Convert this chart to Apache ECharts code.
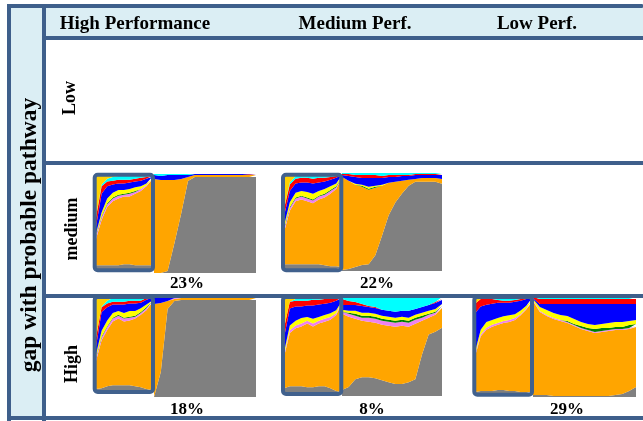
<!DOCTYPE html>
<html lang="en">
<head>
<meta charset="UTF-8" />
<title>gap with probable pathway</title>
<script src="https://cdn.jsdelivr.net/npm/echarts@6/dist/echarts.min.js"></script>
<style>
  html, body { margin: 0; padding: 0; background: #fff; }
  #main { width: 643px; height: 421px; }
</style>
</head>
<body>
<div id="main"></div>
<script>
// stack order, bottom -> top
var layers = ['gray', 'orange', 'violet', 'green', 'yellow', 'blue', 'red', 'cyan', 'gold'];
var layerColors = {
  gray: '#808080', orange: '#FFA500', violet: '#EE82EE', green: '#008000', yellow: '#FFFF00',
  blue: '#0000FF', red: '#FF0000', cyan: '#00FFFF', gold: '#FFD200'
};

var zoomSteps = ['0', '1', '2', '3', '4', '5', '6', '7', '8', '9', '10'];
var fullSteps = ['0', '1', '2', '3', '4', '5', '6', '7', '8', '9', '10', '11', '12', '13', '14', '15'];

var colLabels = ['High Performance', 'Medium Perf.', 'Low Perf.'];
var rowLabels = ['Low', 'medium', 'High'];
var shares = ['23%', '22%', '18%', '8%', '29%'];

// medium gap / high performance
var medHighPerfZoom = {
  gray:   [4, 4, 4, 4, 4, 5, 5, 4, 4, 4, 4],
  orange: [28, 48, 62, 68, 71, 72, 72, 76, 79, 84, 91],
  violet: [3, 3, 3, 3, 3, 2, 3, 2, 2, 1, 0],
  green:  [1, 1, 1, 1, 1, 1, 1, 1, 0, 0, 0],
  yellow: [2, 4, 5, 5, 5, 4, 4, 4, 3, 2, 1],
  blue:   [7, 20, 13, 9, 7, 7, 7, 6, 6, 5, 2],
  red:    [10, 8, 5, 4, 4, 4, 3, 3, 3, 2, 1],
  cyan:   [0, 2, 3, 4, 4, 5, 5, 4, 3, 2, 1],
  gold:   [45, 10, 4, 2, 1, 0, 0, 0, 0, 0, 0]
};
var medHighPerfFull = {
  gray:   [0, 0, 2, 30, 60, 93, 97, 97, 97, 97, 97, 97, 97, 97, 97, 97],
  orange: [95, 94, 92, 64, 35, 4, 2, 2, 2, 2, 2, 2, 2, 2, 2, 2],
  blue:   [4, 4, 5, 5, 4, 2, 1, 1, 1, 1, 1, 1, 1, 1, 0.5, 0.5],
  red:    [0, 0, 0, 0, 0, 0, 0, 0, 0, 0, 0, 0, 0, 0, 0.5, 0.5],
  cyan:   [1, 2, 1, 1, 1, 1, 0, 0, 0, 0, 0, 0, 0, 0, 0, 0]
};

// medium gap / medium performance
var medMedPerfZoom = {
  gray:   [5, 5, 5, 5, 5, 5, 5, 4, 3, 3, 2],
  orange: [34, 57, 67, 69, 67, 65, 69, 72, 77, 82, 96],
  violet: [3, 3, 3, 3, 3, 3, 3, 3, 3, 2, 0],
  green:  [1, 1, 1, 1, 1, 1, 1, 1, 1, 1, 0],
  yellow: [3, 5, 5, 5, 6, 6, 5, 5, 4, 3, 1],
  blue:   [10, 12, 10, 9, 10, 11, 9, 8, 7, 6, 1],
  red:    [8, 7, 5, 5, 5, 5, 5, 4, 3, 2, 0],
  cyan:   [0, 2, 3, 3, 3, 4, 3, 3, 2, 1, 0],
  gold:   [36, 8, 1, 0, 0, 0, 0, 0, 0, 0, 0]
};
var medMedPerfFull = {
  gray:   [1, 2, 4, 6, 7, 16, 36, 57, 70, 79, 87, 91, 91, 91, 91, 89],
  orange: [95, 90, 84, 80, 76, 69, 51, 33, 21, 13, 6, 3, 4, 4, 4, 5],
  green:  [0, 0, 0, 1, 1, 1, 0, 0, 0, 0, 0, 0, 0, 0, 0, 0],
  yellow: [0, 0, 1, 1, 2, 1, 1, 0, 0, 0, 0, 0, 0, 0, 0, 0],
  blue:   [2, 5, 7, 7, 9, 8, 7, 6, 5, 5, 4, 4, 3, 3, 3, 4],
  red:    [1, 2, 2, 3, 3, 3, 2, 2, 2, 1, 1, 1, 1, 1, 1, 1],
  cyan:   [1, 1, 2, 2, 2, 2, 3, 2, 2, 2, 2, 1, 1, 1, 1, 1]
};

// high gap / high performance
var highHighPerfZoom = {
  gray:   [2, 3, 5, 6, 6, 6, 6, 5, 4, 2, 1],
  orange: [30, 51, 60, 68, 71, 68, 69, 72, 77, 84, 93],
  violet: [3, 3, 3, 3, 3, 3, 3, 2, 2, 2, 1],
  green:  [1, 1, 1, 1, 1, 1, 1, 1, 1, 1, 0],
  yellow: [3, 6, 6, 5, 4, 5, 6, 5, 4, 3, 1],
  blue:   [8, 20, 14, 9, 7, 9, 8, 8, 6, 5, 3],
  red:    [10, 5, 4, 3, 3, 3, 3, 3, 2, 2, 1],
  cyan:   [0, 1, 3, 4, 5, 5, 4, 4, 4, 1, 0],
  gold:   [43, 10, 4, 1, 0, 0, 0, 0, 0, 0, 0]
};
var highHighPerfFull = {
  gray:   [0, 25, 88, 96, 97, 97, 97, 97, 97, 97, 97, 97, 97, 97, 97, 97],
  orange: [93, 69, 8, 2, 2, 2, 2, 2, 2, 2, 2, 2, 2, 2, 2, 2],
  violet: [0, 0, 0, 1, 0.5, 0.5, 0.5, 0.5, 0.5, 0.5, 0.5, 0.5, 0.5, 0.5, 0.5, 0.5],
  blue:   [6, 5, 3, 1, 0.5, 0.5, 0.5, 0.5, 0.5, 0.5, 0.5, 0.5, 0.5, 0.5, 0.5, 0.5],
  cyan:   [1, 1, 1, 0, 0, 0, 0, 0, 0, 0, 0, 0, 0, 0, 0, 0]
};

// high gap / medium performance
var highMedPerfZoom = {
  gray:   [4, 6, 6, 6, 5, 5, 6, 6, 4, 1, 0],
  orange: [33, 56, 61, 63, 67, 64, 66, 68, 72, 80, 94],
  violet: [2, 3, 3, 3, 3, 3, 3, 3, 3, 2, 1],
  yellow: [3, 5, 5, 6, 4, 5, 4, 4, 4, 3, 1],
  blue:   [15, 18, 15, 12, 12, 14, 13, 12, 11, 10, 3],
  red:    [10, 7, 6, 6, 5, 6, 5, 5, 4, 2, 1],
  cyan:   [0, 0, 2, 4, 4, 3, 3, 2, 2, 2, 0],
  gold:   [33, 5, 2, 0, 0, 0, 0, 0, 0, 0, 0]
};
var highMedPerfFull = {
  gray:   [6, 9, 17, 19, 19, 18, 16, 14, 12, 12, 14, 17, 42, 62, 65, 69],
  orange: [77, 71, 61, 57, 56, 56, 56, 57, 58, 59, 56, 56, 34, 17, 17, 20],
  violet: [2, 3, 3, 3, 4, 4, 4, 4, 4, 4, 4, 4, 3, 3, 2, 2],
  green:  [0, 1, 2, 2, 2, 2, 2, 2, 2, 2, 2, 2, 2, 1, 1, 0],
  yellow: [2, 2, 3, 3, 3, 3, 3, 3, 3, 3, 3, 3, 3, 3, 3, 2],
  blue:   [5, 6, 6, 7, 6, 6, 6, 6, 6, 6, 7, 6, 6, 6, 6, 4],
  red:    [6, 4, 3, 2, 1, 1, 0, 0, 0, 0, 0, 0, 0, 0, 1, 1],
  cyan:   [2, 4, 5, 7, 9, 10, 13, 14, 15, 14, 14, 12, 10, 8, 5, 2]
};

// high gap / low performance
var highLowPerfZoom = {
  gray:   [1, 2, 2, 2, 3, 3, 2, 2, 1, 1, 1],
  orange: [37, 57, 64, 67, 68, 70, 72, 74, 80, 86, 94],
  violet: [2, 2, 2, 2, 2, 2, 2, 2, 1, 1, 0],
  yellow: [3, 5, 6, 5, 5, 5, 5, 4, 4, 3, 2],
  blue:   [40, 24, 18, 17, 16, 14, 13, 13, 10, 7, 2],
  red:    [10, 8, 6, 5, 3, 2, 2, 2, 2, 1, 1],
  cyan:   [0, 0, 0, 1, 3, 4, 4, 3, 2, 1, 0],
  gold:   [7, 2, 2, 1, 0, 0, 0, 0, 0, 0, 0]
};
var highLowPerfFull = {
  gray:   [2, 2, 2, 1, 1, 1, 1, 1, 1, 1, 1, 1, 2, 3, 6, 10],
  orange: [94, 83, 79, 77, 75, 73, 70, 67, 65, 63, 64, 65, 65, 64, 62, 60],
  violet: [1, 1, 1, 1, 1, 1, 1, 1, 1, 1, 1, 1, 1, 1, 1, 1],
  green:  [0, 0, 0, 0, 0, 1, 1, 2, 2, 3, 3, 2, 2, 2, 3, 2],
  yellow: [1, 4, 5, 5, 5, 5, 5, 4, 4, 4, 4, 5, 5, 5, 4, 4],
  blue:   [1, 3, 6, 9, 11, 12, 15, 18, 20, 21, 20, 19, 18, 18, 17, 16],
  red:    [1, 5, 5, 5, 5, 5, 5, 5, 5, 5, 5, 5, 5, 5, 5, 5],
  cyan:   [0, 2, 2, 2, 2, 2, 2, 2, 2, 2, 2, 2, 2, 2, 2, 2]
};

var LINE = '#3E5F8B';
var PALE = '#DBEEF4';
var SERIF = "'Liberation Serif', 'Times New Roman', serif";

// each panel: zoomed part in a frame + full part on its right
var panels = [
  { zoom: medHighPerfZoom, full: medHighPerfFull, zg: [96, 175, 56, 94], fg: [154, 174, 102, 99], frame: [94.7, 174.7, 58.3, 95.5], label: shares[0], lx: 187, ly: 284 },
  { zoom: medMedPerfZoom, full: medMedPerfFull, zg: [284, 175, 58, 94], fg: [342, 173, 100, 98], frame: [283, 174.7, 58.3, 95.6], label: shares[1], lx: 377, ly: 284 },
  { zoom: highHighPerfZoom, full: highHighPerfFull, zg: [96, 297, 56, 94], fg: [154, 297, 102, 100], frame: [94.7, 297, 58.3, 95], label: shares[2], lx: 187, ly: 410 },
  { zoom: highMedPerfZoom, full: highMedPerfFull, zg: [284, 297, 58, 95], fg: [342, 297, 100, 99], frame: [283, 297, 58.3, 97], label: shares[3], lx: 372, ly: 410 },
  { zoom: highLowPerfZoom, full: highLowPerfFull, zg: [475, 297, 57, 96], fg: [533, 297, 103, 100], frame: [474.3, 297, 57.7, 97.7], label: shares[4], lx: 567, ly: 410 }
];

var grids = [], xAxes = [], yAxes = [], series = [];
function addPart(data, steps, g) {
  var idx = grids.length;
  grids.push({ left: g[0], top: g[1], width: g[2], height: g[3], show: false });
  xAxes.push({ type: 'category', gridIndex: idx, data: steps, boundaryGap: false, show: false });
  yAxes.push({ type: 'value', gridIndex: idx, min: 0, max: 100, show: false });
  layers.forEach(function (name) {
    if (!data[name]) return;
    series.push({
      type: 'line', name: name, xAxisIndex: idx, yAxisIndex: idx, stack: 'g' + idx,
      data: data[name], symbol: 'none', smooth: false,
      lineStyle: { width: 0 },
      areaStyle: { color: layerColors[name], opacity: 1 },
      itemStyle: { color: layerColors[name] }
    });
  });
}

var graphics = [
  // pale header and side column
  { type: 'rect', shape: { x: 10, y: 6, width: 34, height: 412 }, style: { fill: PALE }, z: 0 },
  { type: 'rect', shape: { x: 44, y: 6, width: 599, height: 31 }, style: { fill: PALE }, z: 0 },
  // table lines
  { type: 'rect', shape: { x: 7, y: 4, width: 636, height: 4, r: 1 }, style: { fill: LINE }, z: 50 },
  { type: 'rect', shape: { x: 7, y: 4, width: 4, height: 417 }, style: { fill: LINE }, z: 50 },
  { type: 'rect', shape: { x: 42, y: 6, width: 4, height: 415 }, style: { fill: LINE }, z: 50 },
  { type: 'rect', shape: { x: 42, y: 36, width: 601, height: 4 }, style: { fill: LINE }, z: 50 },
  { type: 'rect', shape: { x: 42, y: 161, width: 601, height: 4 }, style: { fill: LINE }, z: 50 },
  { type: 'rect', shape: { x: 42, y: 294, width: 601, height: 4 }, style: { fill: LINE }, z: 50 },
  { type: 'rect', shape: { x: 7, y: 416, width: 636, height: 4 }, style: { fill: LINE }, z: 50 },
  // side title
  { type: 'text', x: 30, y: 235, rotation: Math.PI / 2, z: 60,
    style: { text: 'gap with probable pathway', font: 'bold 23.5px ' + SERIF, fill: '#000', textAlign: 'center', textVerticalAlign: 'middle' } }
];
[135, 355, 537].forEach(function (cx, i) {
  graphics.push({ type: 'text', x: cx, y: 24, z: 60,
    style: { text: colLabels[i], font: 'bold 19px ' + SERIF, fill: '#000', textAlign: 'center', textVerticalAlign: 'middle' } });
});
[[70, 98], [72, 229], [72, 364]].forEach(function (p, i) {
  graphics.push({ type: 'text', x: p[0], y: p[1], rotation: Math.PI / 2, z: 60,
    style: { text: rowLabels[i], font: 'bold 18px ' + SERIF, fill: '#000', textAlign: 'center', textVerticalAlign: 'middle' } });
});

panels.forEach(function (p) {
  addPart(p.full, fullSteps, p.fg);
  addPart(p.zoom, zoomSteps, p.zg);
  graphics.push({ type: 'rect', z: 40,
    shape: { x: p.frame[0], y: p.frame[1], width: p.frame[2], height: p.frame[3], r: 3 },
    style: { fill: 'none', stroke: '#41618D', lineWidth: 4 } });
  graphics.push({ type: 'text', x: p.lx, y: p.ly, z: 60,
    style: { text: p.label, font: 'bold 17px ' + SERIF, fill: '#000', textAlign: 'center', textVerticalAlign: 'middle' } });
});

var chart = echarts.init(document.getElementById('main'));
chart.setOption({
  animation: false,
  backgroundColor: '#fff',
  grid: grids,
  xAxis: xAxes,
  yAxis: yAxes,
  series: series,
  graphic: graphics
});
</script>
</body>
</html>
